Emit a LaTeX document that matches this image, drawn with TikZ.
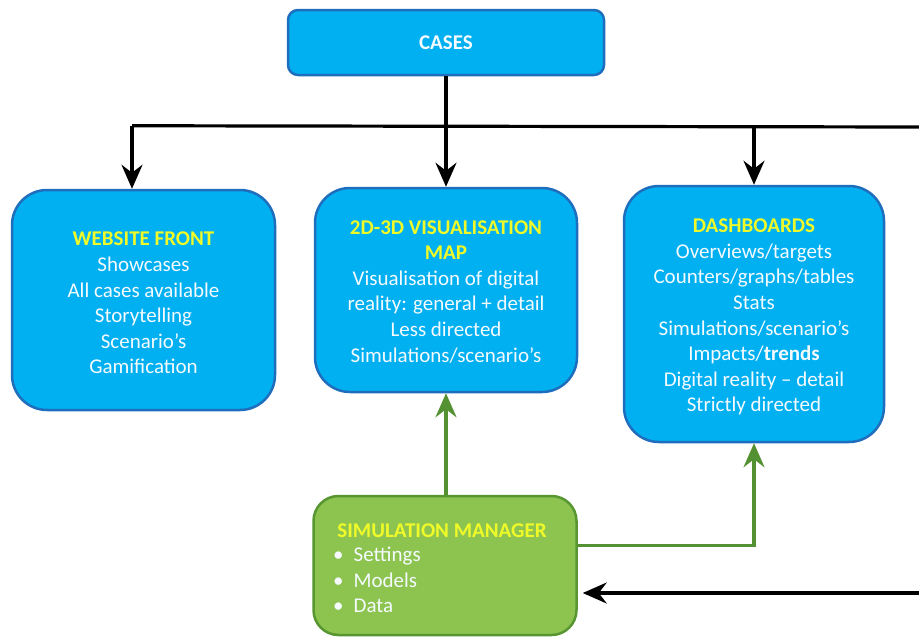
\documentclass[tikz,border=0pt]{standalone}
\usepackage{fontspec}
\setmainfont{Carlito}
\usetikzlibrary{arrows.meta,calc}
\definecolor{boxblue}{RGB}{0,176,240}
\definecolor{edgeblue}{RGB}{31,110,190}
\definecolor{boxgreen}{RGB}{141,196,80}
\definecolor{edgegreen}{RGB}{88,150,50}
\definecolor{linegreen}{RGB}{84,145,50}
\definecolor{headyellow}{RGB}{240,250,40}
\definecolor{bodywhite}{RGB}{245,250,255}
\newcommand{\toprule}{\rule{0pt}{20pt}}
\tikzset{
  bluebox/.style={draw=edgeblue, fill=boxblue, line width=2.5pt, rounded corners=35pt,
    text=bodywhite, align=center, inner sep=0pt,
    font=\fontsize{21}{25.6}\selectfont},
  greenbox/.style={draw=edgegreen, fill=boxgreen, line width=2.5pt, rounded corners=25pt,
    inner sep=0pt},
  headtip/.style={-{Stealth[length=24pt,width=21pt,inset=8pt]}},
  arr/.style={line width=3.2pt, headtip},
  garr/.style={draw=linegreen, line width=3.2pt, headtip},
}
\begin{document}
\begin{tikzpicture}[x=1pt,y=-1pt]
\useasboundingbox (0,0) rectangle (919,637);

% top box
\node[bluebox, rounded corners=10pt, minimum width=316pt, minimum height=65pt,
      font=\fontsize{21}{24}\selectfont\bfseries] (cases) at (446,42.5) {CASES};

% three output boxes
\node[bluebox, minimum width=263pt, minimum height=220pt] (web) at (143.5,300)
  {\toprule{\color{headyellow}\bfseries WEBSITE FRONT}\\ Showcases\\ All cases available\\
   Storytelling\\ Scenario’s\\ Gamification};

\node[bluebox, minimum width=262pt, minimum height=204pt] (viz) at (446,290)
  {\rule{0pt}{17pt}{\color{headyellow}\bfseries 2D-3D VISUALISATION}\\ {\color{headyellow}\bfseries MAP}\\
   Visualisation of digital\\ reality: general + detail\\ Less directed\\
   Simulations/scenario’s};

\node[bluebox, minimum width=260pt, minimum height=256pt] (dash) at (754,314)
  {\toprule{\color{headyellow}\bfseries DASHBOARDS}\\ Overviews/targets\\ Counters/graphs/tables\\
   Stats\\ Simulations/scenario’s\\ Impacts/\textbf{trends}\\ Digital reality -- detail\\
   Strictly directed};

% simulation manager
\node[greenbox, minimum width=263pt, minimum height=139pt] (sim) at (445,565.5) {};
\node[text=headyellow, font=\fontsize{21}{24}\selectfont\bfseries, anchor=base]
  (simtitle) at (442,537) {SIMULATION MANAGER};
\node[text=bodywhite, font=\fontsize{21}{25.6}\selectfont, align=left, anchor=north west,
      inner sep=0pt] (simlist) at (333,547)
  {\textbullet\hspace{10pt}Settings\\ \textbullet\hspace{10pt}Models\\ \textbullet\hspace{10pt}Data};

% distribution bus from CASES
\coordinate (busR) at (919,127);
\draw[line width=3.2pt] (busR) -- ($(web.north)+(-11.5,-63)$);
\draw[arr] ($(web.north)+(-11.5,-63)$) -- ($(web.north)+(-11.5,0)$);
\draw[arr] (cases.south) -- (viz.north);
\draw[arr] (busR -| dash.north) -- (dash.north);

% simulation manager feeds
\draw[garr] (sim.north -| viz.south) -- (viz.south);
\draw[garr] ($(sim.east)+(0,-20)$) -| (dash.south);

% return into simulation manager
\coordinate (retR) at (919,593);
\draw[arr, shorten >=5pt] (retR) -- (retR -| sim.east);
\end{tikzpicture}
\end{document}
